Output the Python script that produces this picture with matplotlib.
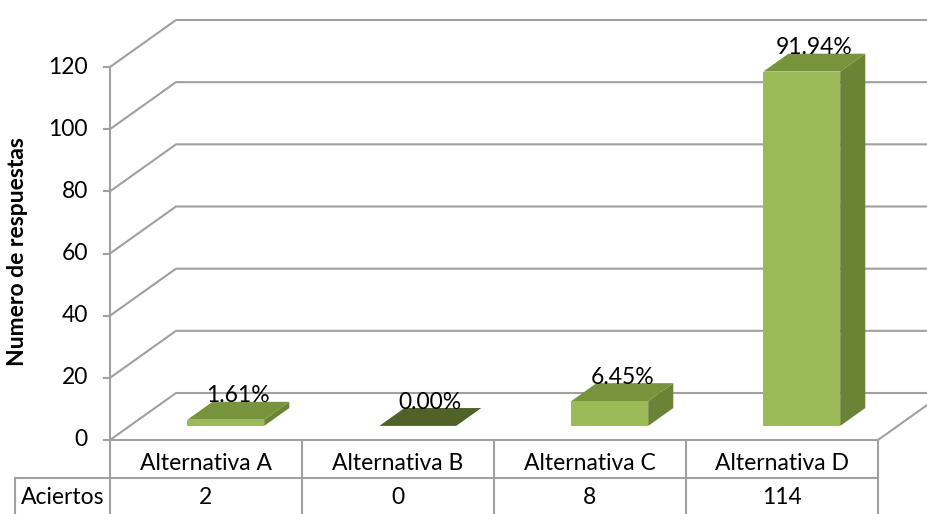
import matplotlib
matplotlib.use("Agg")
import matplotlib.pyplot as plt
from matplotlib.patches import Polygon

# data
categories = ["Alternativa A", "Alternativa B", "Alternativa C", "Alternativa D"]
aciertos = [2, 0, 8, 114]
row_label = "Aciertos"
yticks = [0, 20, 40, 60, 80, 100, 120]

plt.rcParams['font.family'] = ['Lato', 'DejaVu Sans']
FS = 16.5

W, H = 928, 514
fig = plt.figure(figsize=(W / 100, H / 100), dpi=100)
ax = fig.add_axes([0, 0, 1, 1])

# pixel layout -> data units
X0PX, X4PX = 110, 878      # front floor, category 0..4
Y0PX, Y120PX = 440, 67     # value 0 and 120
sx = (X4PX - X0PX) / 4.0
sy = (Y0PX - Y120PX) / 120.0
ax.set_xlim(-X0PX / sx, (W - X0PX) / sx)
ax.set_ylim(-(H - Y0PX) / sy, Y0PX / sy)
ax.axis('off')

def px(x):
    return (x - X0PX) / sx

def py(y):
    return (Y0PX - y) / sy

DX = 66 / sx   # depth offset
DY = 47 / sy
grid_c = "#a0a0a0"
lw = 1.5

# walls and grid
for v in yticks:
    ax.plot([0, DX, px(W + 20)], [v, v + DY, v + DY], color=grid_c, lw=lw, solid_capstyle='butt')
    ax.plot([-6 / sx, 0], [v, v], color=grid_c, lw=lw)
    ax.text(px(88), v, str(v), ha='right', va='center', fontsize=FS, color="#000000")
ax.plot([0, 0], [0, yticks[-1]], color=grid_c, lw=lw)
ax.plot([4, 4 + DX], [0, DY], color=grid_c, lw=lw)

ax.text(px(18), py(252), "Numero de respuestas", rotation=90, ha='center', va='center',
        fontsize=FS, fontweight='bold')

# bars
front_c = "#9bbb59"
top_c = "#77933c"
side_c = "#6a8435"
zero_c = "#4f6228"
total = sum(aciertos)
w = 0.4
d0, d1 = 0.3, 0.68
ddx, ddy = (d1 - d0) * DX, (d1 - d0) * DY
for i, v in enumerate(aciertos):
    c = i + 0.5
    x0 = c - w / 2 + d0 * DX
    y0 = d0 * DY
    tc = top_c if v > 0 else zero_c
    if v > 0:
        ax.add_patch(Polygon([(x0, y0), (x0 + w, y0), (x0 + w, y0 + v), (x0, y0 + v)],
                             closed=True, facecolor=front_c, edgecolor='none', zorder=3))
        ax.add_patch(Polygon([(x0 + w, y0), (x0 + w + ddx, y0 + ddy), (x0 + w + ddx, y0 + v + ddy),
                              (x0 + w, y0 + v)], closed=True, facecolor=side_c, edgecolor='none', zorder=3))
    ax.add_patch(Polygon([(x0, y0 + v), (x0 + w, y0 + v), (x0 + w + ddx, y0 + v + ddy),
                          (x0 + ddx, y0 + v + ddy)], closed=True, facecolor=tc, edgecolor='none', zorder=3))
    pct = v / total * 100
    ax.text(x0 + w / 2 + ddx / 2, y0 + v + ddy - 1.5, f"{pct:.2f}%", ha='center', va='bottom',
            fontsize=FS, zorder=4)

# data table
tab_c = "#a0a0a0"
r1 = py(478)
bot = py(H + 5)
left = px(15)
ax.plot([0, 4], [0, 0], color=tab_c, lw=lw)
ax.plot([left, 4], [r1, r1], color=tab_c, lw=lw)
for k in range(5):
    ax.plot([k, k], [0, bot], color=tab_c, lw=lw)
ax.plot([left, left], [r1, bot], color=tab_c, lw=lw)
for i, (cat, v) in enumerate(zip(categories, aciertos)):
    ax.text(i + 0.5, py(464), cat, ha='center', va='center', fontsize=FS)
    ax.text(i + 0.5, py(498), str(v), ha='center', va='center', fontsize=FS)
ax.text((left + 0) / 2, py(498), row_label, ha='center', va='center', fontsize=FS)

fig.savefig("out.png", dpi=100)
